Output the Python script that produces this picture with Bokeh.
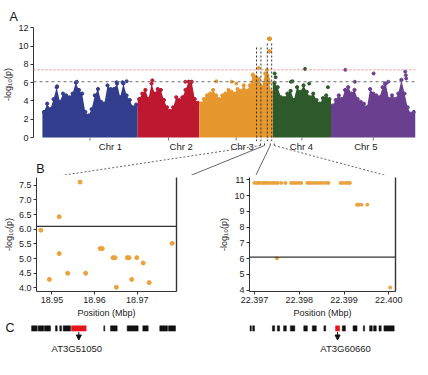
import numpy as np
from bokeh.plotting import figure
from bokeh.models import (Range1d, FixedTicker, Span, LinearAxis,
                          Arrow, NormalHead, NumeralTickFormatter)
from bokeh.layouts import column, row
from bokeh.embed import file_html
from bokeh.resources import INLINE
from bokeh.core.properties import value

FONT = "Liberation Sans"
TXT = "#222222"
AXC = "#333333"

# ---------------- data ----------------
chrom_names = ["Chr 1", "Chr 2", "Chr 3", "Chr 4", "Chr 5"]
chrom_len_mb = [30.43, 19.70, 23.46, 18.59, 26.98]
chrom_colors = ["#323D8D", "#BE1730", "#E6982F", "#2E5A2B", "#6A3F8F"]

# upper envelope of -log10(p) per ~1 Mb window (panel A)
chr1_env = [2.8, 3.7, 3.1, 4.2, 5.5, 3.9, 4.8, 4.6, 4.4, 4.8, 6.0, 5.2, 4.8, 2.8, 2.4,
            3.1, 4.6, 5.3, 3.9, 3.7, 5.7, 5.3, 5.3, 5.9, 4.4, 5.9, 4.6, 4.1, 3.3, 3.6]
chr2_env = [4.2, 4.8, 5.2, 4.2, 5.9, 4.8, 5.3, 5.2, 4.1, 3.3, 2.9, 3.3, 4.4, 4.1, 4.4,
            5.2, 6.1, 6.1, 4.2, 3.8]
chr3_env = [3.7, 4.2, 4.6, 4.8, 5.2, 4.6, 4.2, 4.6, 4.8, 5.2, 5.0, 4.8, 5.3, 5.1, 5.7,
            5.1, 5.7, 6.8, 6.6, 6.4, 5.5, 7.0, 6.4, 5.0]
chr4_env = [6.0, 5.5, 4.4, 4.3, 4.8, 5.1, 4.1, 5.5, 5.0, 5.7, 5.0, 4.4, 4.8, 4.1, 3.7,
            4.3, 4.6, 4.2]
chr5_env = [3.5, 4.1, 4.6, 4.2, 5.2, 5.5, 4.8, 5.2, 4.2, 3.9, 3.7, 3.3, 5.3, 4.8, 4.6,
            4.4, 5.5, 5.9, 4.2, 4.6, 4.2, 4.8, 6.3, 4.8, 3.3, 2.6, 2.8]
chrom_env = [chr1_env, chr2_env, chr3_env, chr4_env, chr5_env]

# isolated top SNPs in panel A (chromosome index, position Mb, -log10 p)
top_chr = [0, 0, 0, 0, 0, 1, 1, 1, 2, 2, 2, 2, 2, 2, 3, 3, 3, 3, 3, 3, 3,
           4, 4, 4, 4, 4, 4, 4, 4]
top_pos = [4.7, 11.0, 23.7, 25.6, 26.9, 4.7, 15.2, 17.1, 5.4, 10.3, 11.8, 17.1, 21.6, 21.8,
           0.6, 0.9, 5.8, 6.3, 10.3, 11.6, 17.6, 4.6, 7.6, 13.6, 17.2, 18.3, 23.7, 23.9, 24.0]
top_val = [5.6, 6.1, 6.05, 6.05, 6.15, 6.26, 6.1, 6.07, 6.15, 6.1, 5.9, 6.9, 7.4, 6.8,
           7.0, 6.6, 6.1, 6.15, 7.5, 5.9, 5.5, 7.4, 6.1, 7.0, 5.9, 6.1, 7.2, 6.8, 6.45]

thr_bonf = 7.4
thr_sugg = 6.1

# zoomed regions (both on Chr 3)
region_chr = 2
region1_pos = [18.9474, 18.9494, 18.9517, 18.9517, 18.9537, 18.9566, 18.9579, 18.9613,
               18.9618, 18.9643, 18.9648, 18.9651, 18.9677, 18.9681, 18.9687, 18.9699,
               18.9714, 18.9728, 18.9782]
region1_val = [5.97, 4.29, 6.43, 5.17, 4.50, 7.61, 4.50, 5.34, 5.34, 5.03, 5.03, 4.02,
               5.03, 5.03, 4.29, 5.03, 4.85, 4.18, 5.52]
region2_pos = [22.39700, 22.39705, 22.39710, 22.39716, 22.39721, 22.39726, 22.39731,
               22.39736, 22.39742, 22.39747, 22.39752, 22.39760, 22.39769, 22.39782,
               22.39787, 22.39792, 22.39798, 22.39804, 22.39818, 22.39823, 22.39828,
               22.39834, 22.39840, 22.39846, 22.39852, 22.39859, 22.39865, 22.39892,
               22.39897, 22.39903, 22.39908, 22.39913,
               22.39929, 22.39933, 22.39939, 22.39952, 22.39750, 22.40003]
region2_val = [10.8] * 32 + [9.42, 9.42, 9.42, 9.42, 6.02, 4.17]

zoom_center = [18.963, 22.3985]
zoom_box_half = 0.7
zoom_box_top = [9.9, 10.3]

# gene models (panel C)
genes1_start = [18.94640, 18.94789, 18.94932, 18.95181, 18.95278, 18.95355, 18.95543,
                18.96275, 18.96426, 18.96804, 18.97158, 18.97542, 18.97740]
genes1_end = [18.94767, 18.94916, 18.95068, 18.95220, 18.95317, 18.95521, 18.95876,
              18.96297, 18.96578, 18.97053, 18.97280, 18.97717, 18.97898]
genes1_hit = 6
genes1_name = "AT3G51050"
genes2_start = [22.39690, 22.39696, 22.39740, 22.39751, 22.39765, 22.39780, 22.39810,
                22.39829, 22.39855, 22.39881, 22.39896, 22.39920, 22.39943, 22.39957,
                22.39966, 22.39978, 22.39989]
genes2_end = [22.39693, 22.39700, 22.39745, 22.39756, 22.39771, 22.39790, 22.39818,
              22.39838, 22.39859, 22.39890, 22.39903, 22.39929, 22.39946, 22.39963,
              22.39972, 22.39983, 22.40012]
genes2_hit = 9
genes2_name = "AT3G60660"

# ---------------- layout constants (canvas px) ----------------
W = 428
A_H = 141             # panel A figure height (frame bottom)
A_L, A_R, A_T = 29, 13, 27
A_PAD = 9             # px between y axis and first chromosome
A_ZERO_PX = 137       # canvas row of y = 0
S_BOT = 175           # bottom of connector strip
BL_L, BL_R = 31, 176  # frame edges of panel B left
BR_L, BR_R = 249, 395
B_H, B_T, B_B = 145, 2, 26
C_H = 55

genome_len = float(sum(chrom_len_mb))
offsets = np.concatenate([[0.0], np.cumsum(chrom_len_mb)[:-1]])
frame_w = W - A_L - A_R
sx = (frame_w - A_PAD) / genome_len          # px per Mb
a_x0 = -A_PAD / sx
a_unit = (A_ZERO_PX - A_T) / 12.03           # px per -log10 unit


def a_x_of_px(px):
    return a_x0 + (px - A_L) / sx


def a_y_of_px(py):
    return (A_ZERO_PX - py) / a_unit


def style_axes(p, size="9px"):
    for ax in p.axis:
        ax.axis_line_color = AXC
        ax.major_tick_line_color = AXC
        ax.minor_tick_line_color = None
        ax.major_tick_out = 3
        ax.major_tick_in = 0
        ax.major_label_text_font = FONT
        ax.major_label_text_font_size = size
        ax.major_label_text_color = TXT
        ax.major_label_standoff = 2
        ax.axis_label_text_font = FONT
        ax.axis_label_text_font_size = "9px"
        ax.axis_label_text_font_style = "normal"
        ax.axis_label_text_color = TXT
        ax.axis_label_standoff = 2
    p.xgrid.visible = False
    p.ygrid.visible = False
    p.outline_line_color = None


def bare(p):
    p.xgrid.visible = False
    p.ygrid.visible = False
    p.outline_line_color = None


# ---------------- panel A ----------------
pa = figure(width=W, height=A_H, x_range=Range1d(a_x0, genome_len),
            y_range=Range1d(a_y_of_px(A_H), 12.03), output_backend="svg",
            toolbar_location=None, x_axis_location=None, min_border_left=A_L,
            min_border_right=A_R, min_border_top=A_T, min_border_bottom=0)
style_axes(pa)
pa.yaxis.ticker = FixedTicker(ticks=[0, 2, 4, 6, 8, 10, 12])
pa.yaxis.bounds = (0, 12)
pa.yaxis.axis_label = "-log₁₀(p)"
pa.title.text = "A"
pa.title.align = "left"
pa.title.offset = -24
pa.title.standoff = 7
pa.title.text_font = FONT
pa.title.text_font_size = "12.5px"
pa.title.text_font_style = "normal"
pa.title.text_color = "#111111"

for k in range(5):
    env = list(chrom_env[k])
    n = len(env)
    w = chrom_len_mb[k] / n
    xc = offsets[k] + (np.arange(n) + 0.5) * w
    xs = np.concatenate([[offsets[k]], xc, [offsets[k] + chrom_len_mb[k]]])
    ys = [env[0]] + env + [env[-1]]
    pa.varea(x=xs, y1=0, y2=ys, fill_color=chrom_colors[k])
    pa.scatter(xc, env, size=3.2, color=chrom_colors[k])

tx = offsets[np.array(top_chr)] + np.array(top_pos)
tc = [chrom_colors[c] for c in top_chr]
pa.scatter(tx, top_val, size=3.0, color=tc)
pa.scatter(offsets[region_chr] + np.array(region1_pos), region1_val, size=3.0,
           color=chrom_colors[region_chr])
pa.scatter(offsets[region_chr] + np.array(region2_pos), region2_val, size=3.0,
           color=chrom_colors[region_chr])

pa.add_layout(Span(location=thr_bonf, dimension="width", line_color="#EE8A8A",
                   line_dash="2 2", line_width=1))
pa.add_layout(Span(location=thr_sugg, dimension="width", line_color="#6E6E6E",
                   line_dash="3 3", line_width=1))

centers = offsets + np.array(chrom_len_mb) / 2
pa.segment(x0=centers, y0=0, x1=centers, y1=-3 / a_unit, line_color="#777777", line_width=1)

# ---------------- connector strip (between A and B) ----------------
ps = figure(width=W, height=S_BOT - A_H,
            x_range=Range1d(a_x_of_px(0), a_x_of_px(W)),
            y_range=Range1d(a_y_of_px(S_BOT), a_y_of_px(A_H)), output_backend="svg",
            toolbar_location=None, x_axis_location=None, y_axis_location=None,
            min_border_left=0, min_border_right=0, min_border_top=0, min_border_bottom=0)
bare(ps)
ps.text(x=centers, y=a_y_of_px(146), text=chrom_names, text_font=value(FONT),
        text_font_size="9.5px", text_align="center", text_baseline="middle", text_color=TXT)

y_box_bottom = a_y_of_px(145)
b_edges = [(BL_L, BL_R), (BR_L, BR_R)]
for i in range(2):
    gx = offsets[region_chr] + zoom_center[i]
    xl, xr = gx - zoom_box_half, gx + zoom_box_half
    for p in (pa, ps):
        p.segment(x0=[xl, xr], y0=[y_box_bottom] * 2, x1=[xl, xr],
                  y1=[zoom_box_top[i]] * 2, line_color="#333333", line_dash="2 2",
                  line_width=1)
    bl, br = b_edges[i]
    dotted_left = (i == 0)
    ps.segment(x0=[xl], y0=[y_box_bottom], x1=[a_x_of_px(bl)], y1=[a_y_of_px(S_BOT)],
               line_color="#666666", line_width=1,
               line_dash="2 2" if dotted_left else "solid")
    ps.segment(x0=[xr], y0=[y_box_bottom], x1=[a_x_of_px(br)], y1=[a_y_of_px(S_BOT)],
               line_color="#666666", line_width=1,
               line_dash="solid" if dotted_left else "2 2")

ps.text(x=[a_x_of_px(3)], y=[a_y_of_px(168)], text=["B"], text_font=value(FONT),
        text_font_size="12.5px", text_align="left", text_baseline="alphabetic",
        text_color="#111111")


# ---------------- panel B ----------------
def b_fig(xr, yr, left, right, xticks, xfmt, yticks, yfmt):
    p = figure(width=214, height=B_H, x_range=xr, y_range=yr, output_backend="svg",
               toolbar_location=None, min_border_left=left, min_border_right=right,
               min_border_top=B_T, min_border_bottom=B_B)
    style_axes(p)
    p.below[0].ticker = FixedTicker(ticks=xticks)
    p.below[0].formatter = NumeralTickFormatter(format=xfmt)
    p.left[0].ticker = FixedTicker(ticks=yticks)
    p.left[0].formatter = NumeralTickFormatter(format=yfmt)
    p.below[0].axis_label = "Position (Mbp)"
    p.left[0].axis_label = "-log₁₀(p)"
    ra = LinearAxis(ticker=FixedTicker(ticks=[]), major_label_text_font_size="0px",
                    axis_line_color=AXC, axis_line_width=1.4, major_tick_line_color=None,
                    minor_tick_line_color=None)
    p.add_layout(ra, "right")
    p.add_layout(Span(location=thr_sugg, dimension="width", line_color="#333333",
                      line_width=1.2))
    return p


xr1 = Range1d(18.94638, 18.97921)
xr2 = Range1d(22.396888, 22.400149)
pbl = b_fig(xr1, Range1d(3.877, 7.766), BL_L, 214 - BL_R,
            [18.95, 18.96, 18.97], "0.00", [4.0, 4.5, 5.0, 5.5, 6.0, 6.5, 7.0, 7.5], "0.0")
pbl.scatter(region1_pos, region1_val, size=4.0, color="#E9A23C")
pbr = b_fig(xr2, Range1d(3.92, 11.142), BR_L - 214, W - BR_R,
            [22.397, 22.398, 22.399, 22.400], "0.000", [4, 5, 6, 7, 8, 9, 10, 11], "0")
pbr.scatter(region2_pos, region2_val, size=3.0, color="#E9A23C")


# ---------------- panel C ----------------
def c_fig(xr, left, right, starts, ends, hit, name, dx, panel_label=None):
    ppu = (214 - left - right) / (xr.end - xr.start)
    x0 = xr.start - left / ppu
    x1 = xr.end + right / ppu
    p = figure(width=214, height=C_H, x_range=Range1d(x0, x1), y_range=Range1d(0, 1),
               output_backend="svg", toolbar_location=None, x_axis_location=None,
               y_axis_location=None, min_border_left=0, min_border_right=0,
               min_border_top=0, min_border_bottom=0)
    bare(p)
    top, bot = 1 - 5.3 / C_H, 1 - 10.6 / C_H
    cols = ["#E8141C" if i == hit else "#111111" for i in range(len(starts))]
    p.quad(left=starts, right=ends, top=top, bottom=bot, fill_color=cols, line_color=cols,
           line_width=0.5)
    gx = (starts[hit] + ends[hit]) / 2
    p.add_layout(Arrow(end=NormalHead(size=5, fill_color="#111111", line_color="#111111"),
                       x_start=gx, y_start=1 - 11.5 / C_H, x_end=gx, y_end=1 - 19.5 / C_H,
                       line_color="#111111", line_width=1))
    p.text(x=[gx], y=[1 - 28 / C_H], text=[name], text_font=value(FONT),
           text_font_size="9.5px", text_align="center", text_baseline="middle",
           text_color=TXT, x_offset=dx)
    if panel_label:
        p.text(x=[x0 + 5 / ppu], y=[1 - 7.5 / C_H], text=[panel_label], text_font=value(FONT),
               text_font_size="12.5px", text_align="left", text_baseline="alphabetic",
               text_color="#111111")
    return p


pcl = c_fig(xr1, BL_L, 214 - BL_R, genes1_start, genes1_end, genes1_hit, genes1_name, -2,
            "C")
pcr = c_fig(xr2, BR_L - 214, W - BR_R, genes2_start, genes2_end, genes2_hit, genes2_name, 8)

layout = column(pa, ps, row(pbl, pbr), row(pcl, pcr))
open("out.html", "w").write(file_html(layout, INLINE))
